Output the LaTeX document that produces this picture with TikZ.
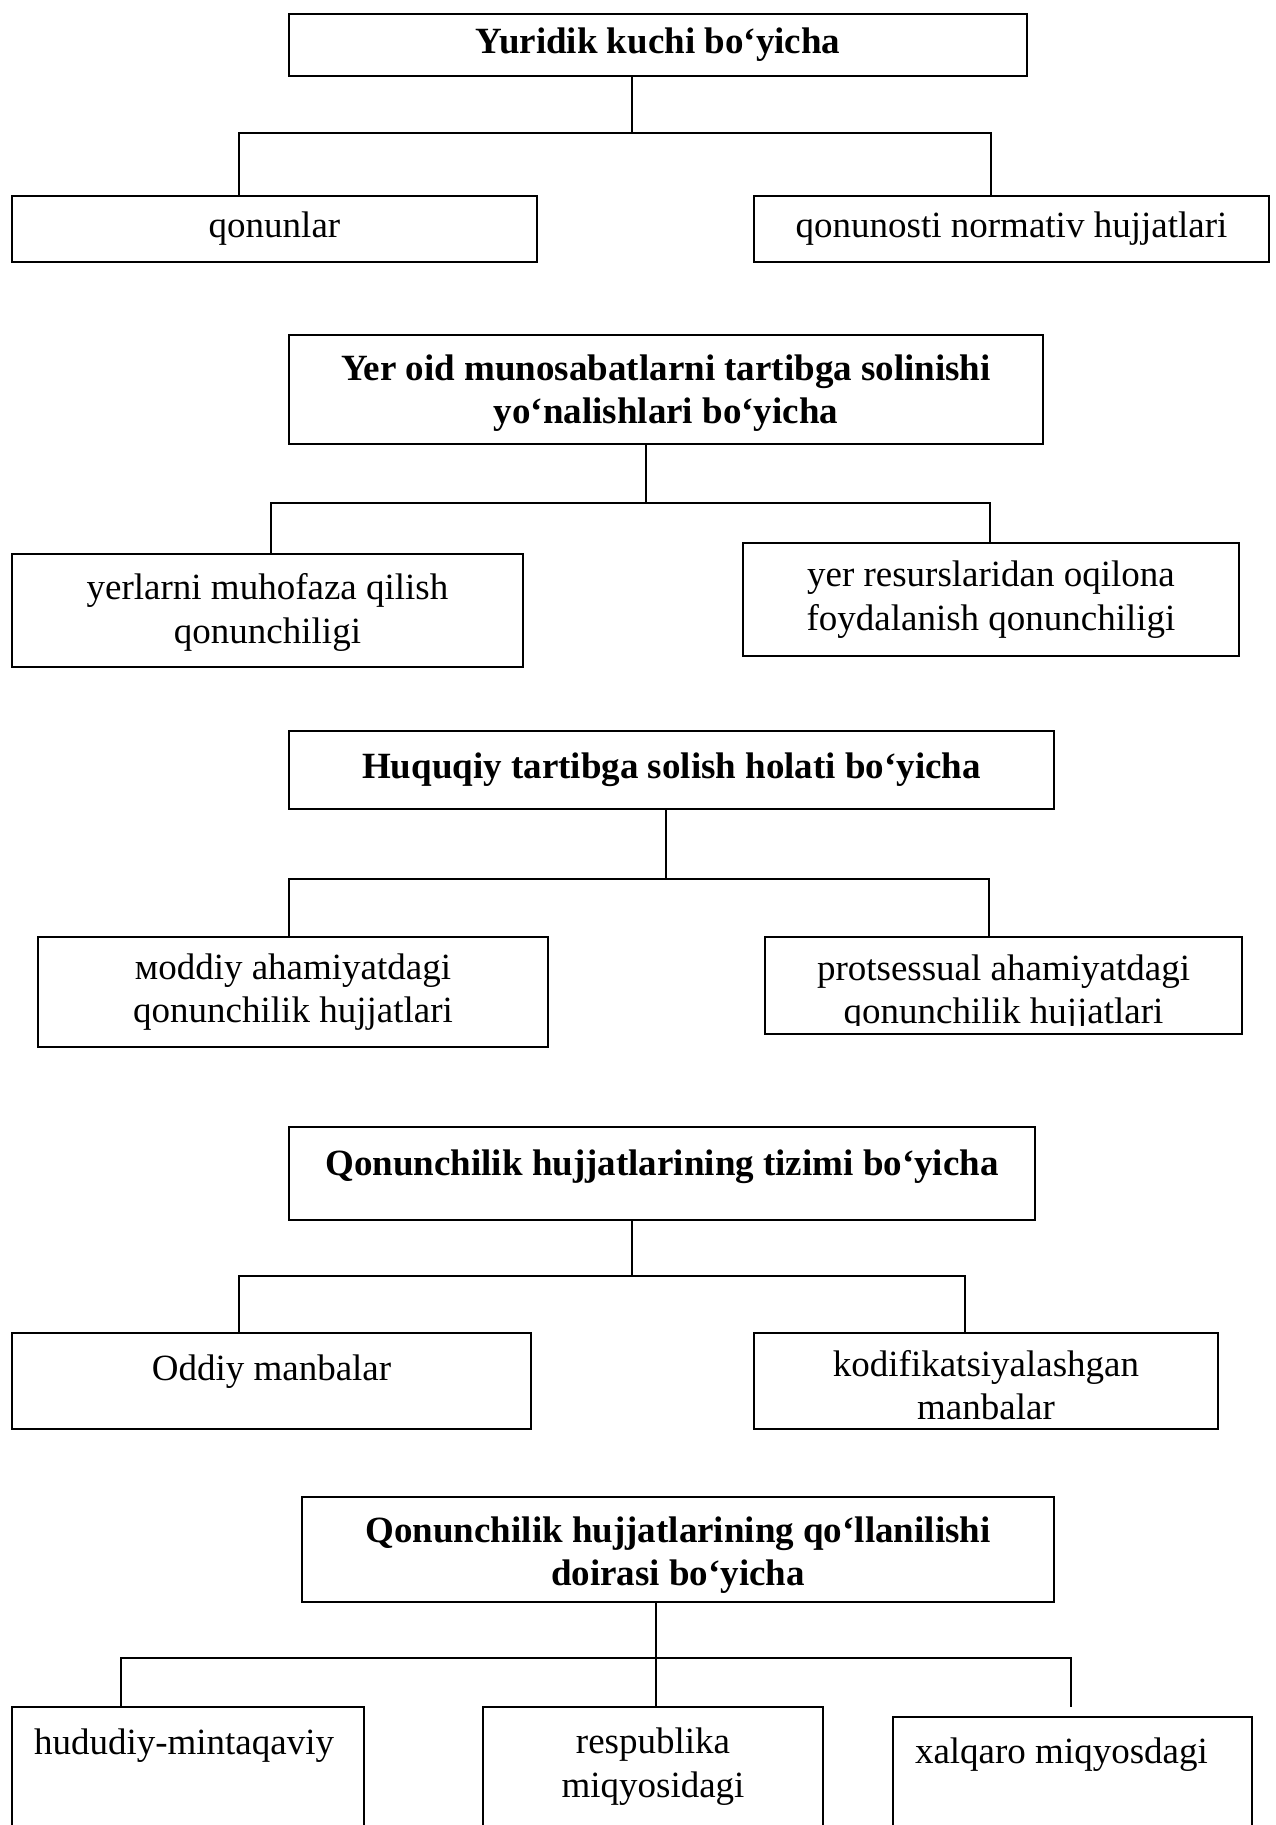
\documentclass[tikz,border=0pt]{standalone}
\usepackage{fontspec}
\setmainfont{Liberation Serif}

\begin{document}
\begin{tikzpicture}[x=1pt,y=-1pt,
    box/.style={draw,rectangle,line width=2.5pt,inner sep=0pt,align=center,
      font=\fontsize{37}{43.5}\selectfont},
    head/.style={box,font=\fontsize{37}{43.5}\selectfont\bfseries},
    leftbox/.style={box,align=flush left,inner xsep=22pt},
    link/.style={line width=1.8pt}]

  \useasboundingbox (0,0) rectangle (1275,1825);

  % draw first block
  \node[head,minimum width=738pt,minimum height=62pt] (yur) at (658,45) {Yuridik kuchi bo‘yicha};
  \node[box,minimum width=525pt,minimum height=66pt] (qon) at (274.5,229) {qonunlar};
  \node[box,minimum width=515pt,minimum height=66pt] (qno) at (1011.5,229) {qonunosti normativ hujjatlari};
  \coordinate (bus1) at (632,133);
  \draw[link] (yur.south -| bus1) -- (bus1);
  \draw[link] (qon.north -| 239,0) |- (bus1) -| (qno.north -| 991,0);

  % draw second block
  \node[head,minimum width=754pt,minimum height=109pt,text height=76.5pt] (yer) at (666,389.5) {Yer oid munosabatlarni tartibga solinishi\\yo‘nalishlari bo‘yicha};
  \node[box,minimum width=511pt,minimum height=113pt,text height=73.5pt] (muh) at (267.5,610.5) {yerlarni muhofaza qilish\\qonunchiligi};
  \node[box,minimum width=496pt,minimum height=113pt] (foy) at (991,599.5) {yer resurslaridan oqilona\\foydalanish qonunchiligi};
  \coordinate (bus2) at (646,503);
  \draw[link] (yer.south -| bus2) -- (bus2);
  \draw[link] (muh.north -| 271,0) |- (bus2) -| (foy.north -| 990,0);

  % draw third block
  \node[head,minimum width=765pt,minimum height=78pt] (huq) at (671.5,770) {Huquqiy tartibga solish holati bo‘yicha};
  \node[box,minimum width=510pt,minimum height=110pt] (mod) at (293,992) {мoddiy ahamiyatdagi\\qonunchilik hujjatlari};
  \node[box,minimum width=477pt,minimum height=97pt,text height=84.5pt] (pro) at (1003.5,985.5) {protsessual ahamiyatdagi\\qonunchilik hujjatlari};
  \fill[white] ([xshift=2.6pt,yshift=2.6pt]pro.south west) rectangle ([xshift=-2.6pt,yshift=9.5pt]pro.south east);
  \coordinate (bus3) at (666,879);
  \draw[link] (huq.south -| bus3) -- (bus3);
  \draw[link] (mod.north -| 289,0) |- (bus3) -| (pro.north -| 989,0);

  % draw fourth block
  \node[head,minimum width=746pt,minimum height=93pt,text depth=21pt] (tiz) at (662,1173.5) {Qonunchilik hujjatlarining tizimi bo‘yicha};
  \node[box,minimum width=519pt,minimum height=96pt,text depth=27pt] (odd) at (271.5,1381) {Oddiy manbalar};
  \node[box,minimum width=464pt,minimum height=96pt,text height=77.5pt] (kod) at (986,1381) {kodifikatsiyalashgan\\manbalar};
  \fill[white] ([xshift=2.6pt,yshift=2.6pt]kod.south west) rectangle ([xshift=-2.6pt,yshift=10.5pt]kod.south east);
  \coordinate (bus4) at (632,1276);
  \draw[link] (tiz.south -| bus4) -- (bus4);
  \draw[link] (odd.north -| 239,0) |- (bus4) -| (kod.north -| 965,0);

  % draw fifth block
  \node[head,minimum width=752pt,minimum height=105pt,text height=80.5pt] (doi) at (678,1549.5) {Qonunchilik hujjatlarining qo‘llanilishi\\doirasi bo‘yicha};
  \node[leftbox,text width=308pt,minimum height=173pt,text depth=103pt] (hud) at (188,1793.5) {hududiy-mintaqaviy};
  \node[box,minimum width=340pt,minimum height=173pt,text depth=62pt] (res) at (653,1793.5) {respublika\\miqyosidagi};
  \node[leftbox,text width=315pt,minimum height=163pt,text depth=96pt] (xal) at (1072.5,1798.5) {xalqaro miqyosdagi};
  \coordinate (bus5) at (656,1658);
  \coordinate (xalend) at (1071,1707);
  \draw[link] (doi.south -| bus5) -- (bus5 |- res.north);
  \draw[link] (hud.north -| 121,0) |- (bus5) -| (xalend);
\end{tikzpicture}
\end{document}
